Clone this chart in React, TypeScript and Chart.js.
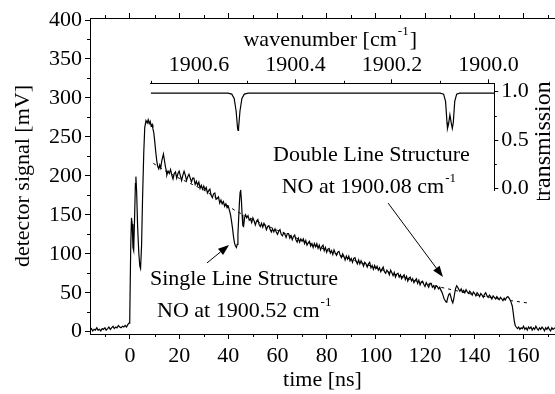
import React, { useEffect, useRef } from "react";
import { Chart, registerables } from "chart.js";
Chart.register(...registerables);

// ---------- data ----------
const timeTicks = [0, 20, 40, 60, 80, 100, 120, 140, 160];
const timeMinorTicks = [-10, 10, 30, 50, 70, 90, 110, 130, 150, 170];
const signalTicks = [0, 50, 100, 150, 200, 250, 300, 350, 400];
const signalMinorTicks = [25, 75, 125, 175, 225, 275, 325, 375];
const wavenumberTicks = [1900.6, 1900.4, 1900.2, 1900.0];
const wavenumberMinorTicks = [1900.7, 1900.5, 1900.3, 1900.1];
const transmissionTicks = [0, 0.5, 1.0];
const transmissionMinorTicks = [0.25, 0.75];

// detector signal [ns, mV]
const signalTrace: [number, number][] = [
  [-16.3, 2], [-15.7, 4], [-15.2, 1], [-14.6, 3], [-14.1, 2], [-13.5, 5], [-13.0, 2], [-12.4, 3], [-11.9, 1], [-11.3, 4],
  [-10.8, 3], [-10.2, 5], [-9.7, 2], [-9.1, 4], [-8.6, 6], [-8.0, 3], [-7.5, 5], [-6.9, 7], [-6.4, 4], [-5.8, 6],
  [-5.3, 5], [-4.7, 8], [-4.2, 6], [-3.6, 5], [-3.1, 7], [-2.5, 6], [-2.0, 8], [-1.4, 6], [-0.9, 9], [-0.4, 11],
  [-0.1, 16], [0.3, 110], [0.6, 146], [0.9, 138], [1.2, 108], [1.5, 104], [1.9, 150], [2.2, 190], [2.4, 199], [2.7, 180],
  [3.1, 135], [3.6, 100], [4.0, 84], [4.3, 81], [4.7, 110], [5.1, 170], [5.6, 230], [6.0, 262], [6.5, 271], [7.0, 268],
  [7.4, 272], [7.8, 267], [8.2, 270], [8.6, 264], [9.0, 266], [9.3, 261], [9.7, 255], [10.1, 243], [10.5, 230], [10.9, 219],
  [11.3, 212], [11.7, 209], [12.1, 214], [12.5, 210], [12.9, 219], [13.3, 224], [13.6, 228], [14.0, 220], [14.4, 212], [14.8, 206],
  [15.0, 201], [15.5, 206], [16.0, 203], [16.5, 208], [17.0, 201], [17.5, 196], [18.0, 203], [18.5, 205], [19.0, 197], [19.5, 203],
  [20.0, 206], [20.5, 200], [21.0, 194], [21.5, 201], [22.0, 206], [22.5, 201], [23.0, 194], [23.5, 199], [24.0, 202], [24.5, 197],
  [25.0, 192], [25.5, 197], [26.0, 197], [26.5, 189], [27.0, 193], [27.5, 188], [28.0, 192], [28.5, 184], [29.0, 188], [29.5, 183],
  [30.0, 187], [30.5, 182], [31.0, 185], [31.5, 178], [32.0, 181], [32.5, 183], [33.0, 175], [33.5, 172], [34.0, 177], [34.5, 178],
  [35.0, 170], [35.5, 171], [36.0, 173], [36.5, 165], [37.0, 169], [37.5, 164], [38.0, 167], [38.5, 161], [39.0, 164], [39.5, 159],
  [40.0, 161], [40.5, 155], [40.9, 150], [41.3, 142], [41.7, 133], [42.1, 122], [42.5, 114], [42.9, 110], [43.3, 108], [43.6, 112],
  [43.9, 125], [44.2, 145], [44.5, 165], [44.8, 179], [45.0, 182], [45.3, 170], [45.6, 150], [45.9, 136], [46.2, 135], [46.6, 146],
  [47.0, 150], [47.5, 146], [48.0, 149], [48.5, 143], [49.0, 145], [49.5, 140], [50.0, 146], [50.5, 142], [51.0, 137], [51.5, 142],
  [52.0, 144], [52.5, 138], [53.0, 135], [53.5, 139], [54.0, 134], [54.5, 139], [55.0, 136], [55.5, 131], [56.0, 135], [56.5, 136],
  [57.0, 131], [57.5, 128], [58.0, 132], [58.5, 128], [59.0, 132], [59.5, 128], [60.0, 125], [60.5, 129], [61.0, 131], [61.5, 125],
  [62.0, 123], [62.5, 127], [63.0, 125], [63.5, 121], [64.0, 126], [64.5, 126], [65.0, 120], [65.5, 123], [66.0, 118], [66.5, 122],
  [67.0, 124], [67.5, 118], [68.0, 115], [68.5, 120], [69.0, 115], [69.5, 119], [70.0, 116], [70.5, 119], [71.0, 113], [71.5, 117],
  [72.0, 111], [72.5, 114], [73.0, 116], [73.5, 110], [74.0, 113], [74.5, 108], [75.0, 113], [75.5, 109], [76.0, 113], [76.5, 107],
  [77.0, 111], [77.5, 105], [78.0, 109], [78.5, 111], [79.0, 104], [79.5, 108], [80.0, 102], [80.5, 106], [81.0, 107], [81.5, 101],
  [82.0, 104], [82.5, 99], [83.0, 105], [83.5, 101], [84.0, 98], [84.5, 102], [85.0, 103], [85.5, 98], [86.0, 95], [86.5, 100],
  [87.0, 97], [87.5, 92], [88.0, 97], [88.5, 93], [89.0, 97], [89.5, 91], [90.0, 94], [90.5, 89], [91.0, 94], [91.5, 95],
  [92.0, 90], [92.5, 87], [93.0, 92], [93.5, 87], [94.0, 91], [94.5, 88], [95.0, 84], [95.5, 89], [96.0, 87], [96.5, 83],
  [97.0, 87], [97.5, 89], [98.0, 82], [98.5, 85], [99.0, 80], [99.5, 85], [100.0, 81], [100.5, 84], [101.0, 79], [101.5, 82],
  [102.0, 77], [102.5, 80], [103.0, 83], [103.5, 77], [104.0, 75], [104.5, 79], [105.0, 77], [105.5, 73], [106.0, 79], [106.5, 76],
  [107.0, 72], [107.5, 76], [108.0, 70], [108.5, 74], [109.0, 75], [109.5, 70], [110.0, 73], [110.5, 68], [111.0, 71], [111.5, 73],
  [112.0, 67], [112.5, 71], [113.0, 65], [113.5, 69], [114.0, 70], [114.5, 65], [115.0, 68], [115.5, 63], [116.0, 66], [116.5, 68],
  [117.0, 62], [117.5, 66], [118.0, 60], [118.5, 64], [119.0, 65], [119.5, 61], [120.0, 58], [120.5, 63], [121.0, 60], [121.5, 57],
  [122.0, 62], [122.5, 62], [123.0, 57], [123.5, 59], [124.0, 55], [124.5, 59], [125.0, 58], [125.5, 55], [126.0, 57], [126.5, 53],
  [127.0, 50], [127.4, 46], [127.8, 42], [128.2, 40], [128.6, 38], [128.9, 39], [129.3, 44], [129.7, 48], [130.1, 49], [130.5, 45],
  [130.9, 40], [131.3, 37], [131.7, 42], [132.1, 50], [132.5, 56], [132.9, 59], [133.3, 57], [133.8, 54], [134.2, 52], [134.7, 55],
  [135.2, 51], [135.7, 53], [136.2, 50], [136.7, 54], [137.2, 51], [137.7, 49], [138.2, 52], [138.7, 50], [139.2, 47], [139.7, 51],
  [140.2, 49], [140.7, 46], [141.2, 50], [141.7, 48], [142.2, 45], [142.7, 49], [143.2, 47], [143.7, 44], [144.2, 48], [144.7, 50],
  [145.2, 46], [145.7, 44], [146.2, 47], [146.7, 45], [147.2, 42], [147.7, 46], [148.2, 44], [148.7, 42], [149.2, 45], [149.7, 43],
  [150.2, 41], [150.7, 44], [151.2, 42], [151.7, 40], [152.2, 43], [152.7, 41], [153.2, 44], [153.7, 45], [154.2, 43], [154.6, 41],
  [155.0, 38], [155.5, 33], [155.9, 24], [156.3, 14], [156.7, 8], [157.1, 6], [157.6, 4], [158.1, 6], [158.6, 3], [159.1, 5],
  [159.6, 4], [160.1, 7], [160.6, 3], [161.1, 5], [161.6, 2], [162.1, 6], [162.6, 4], [163.1, 6], [163.6, 2], [164.1, 5],
  [164.6, 3], [165.1, 7], [165.6, 4], [166.1, 2], [166.6, 5], [167.1, 3], [167.6, 6], [168.1, 4], [168.6, 1], [169.1, 5],
  [169.6, 3], [170.1, 6], [170.6, 3], [171.1, 1], [171.6, 5], [172.1, 3], [172.9, 5],
];

// smooth decay (dashed) [ns, mV]
const fitTrace: [number, number][] = [
  [9.5, 216], [15, 205], [20, 197], [30, 182], [43, 155], [50, 144], [60, 130], [75, 111], [87, 96], [100, 82],
  [114, 67], [125, 58], [140, 47.5], [150, 42], [161.5, 37],
];

// transmission spectrum [cm^-1, transmission]
const spectrum: [number, number][] = [
  [1900.7, 0.985], [1900.54, 0.985], [1900.532, 0.975], [1900.527, 0.93], [1900.523, 0.8], [1900.520, 0.62],
  [1900.519, 0.6], [1900.518, 0.62], [1900.515, 0.8], [1900.511, 0.93], [1900.506, 0.975], [1900.498, 0.985],
  [1900.1, 0.985], [1900.093, 0.975], [1900.089, 0.9], [1900.086, 0.68], [1900.085, 0.62], [1900.083, 0.66],
  [1900.080, 0.76], [1900.077, 0.67], [1900.075, 0.62], [1900.073, 0.68], [1900.070, 0.9], [1900.066, 0.975],
  [1900.06, 0.985], [1899.988, 0.985],
];

// ---------- annotation placement (data units) ----------
const mainNotes = [
  { t: 8.1, mv: 60, text: "Single Line Structure", sup: "" },
  { t: 11, mv: 19.5, text: "NO at 1900.52 cm", sup: "-1" },
  { t: 58.2, mv: 219, text: "Double Line Structure", sup: "" },
  { t: 61.7, mv: 178, text: "NO at 1900.08 cm", sup: "-1" },
];
const mainArrows = [
  { from: [31.3, 88.2], to: [40.3, 111.3] },
  { from: [105, 165], to: [127.3, 70.2] },
];

const FAMILY = '"Liberation Serif", "Times New Roman", Times, serif';
const FS = 22;
const SUPFS = 13;
const tickFont = { family: FAMILY, size: FS };

function line(ctx: CanvasRenderingContext2D, x1: number, y1: number, x2: number, y2: number) {
  ctx.beginPath();
  ctx.moveTo(x1, y1);
  ctx.lineTo(x2, y2);
  ctx.stroke();
}

function textWithSup(ctx: CanvasRenderingContext2D, x: number, y: number, main: string, sup: string, tail = "") {
  ctx.font = `${FS}px ${FAMILY}`;
  ctx.textBaseline = "alphabetic";
  ctx.textAlign = "left";
  ctx.fillText(main, x, y);
  let w = ctx.measureText(main).width;
  if (sup) {
    ctx.font = `${SUPFS}px ${FAMILY}`;
    ctx.fillText(sup, x + w + 1, y - 11);
    w += ctx.measureText(sup).width + 2;
  }
  if (tail) {
    ctx.font = `${FS}px ${FAMILY}`;
    ctx.fillText(tail, x + w, y);
  }
}

function measureWithSup(ctx: CanvasRenderingContext2D, main: string, sup: string, tail = "") {
  ctx.font = `${FS}px ${FAMILY}`;
  let w = ctx.measureText(main).width + ctx.measureText(tail).width;
  ctx.font = `${SUPFS}px ${FAMILY}`;
  if (sup) w += ctx.measureText(sup).width + 2;
  return w;
}

const zeroPad = (s: any) => {
  s.paddingLeft = 0;
  s.paddingRight = 0;
  s.paddingTop = 0;
  s.paddingBottom = 0;
};

const mainDecor = {
  id: "mainDecor",
  afterDraw(chart: any) {
    const ctx = chart.ctx as CanvasRenderingContext2D;
    const xs = chart.scales.x;
    const ys = chart.scales.y;
    const area = chart.chartArea;
    ctx.save();
    ctx.strokeStyle = "#000";
    ctx.fillStyle = "#000";
    ctx.lineWidth = 1;
    for (const v of timeMinorTicks) {
      const px = Math.round(xs.getPixelForValue(v)) + 0.5;
      line(ctx, px, area.bottom, px, area.bottom + 3);
      line(ctx, px, area.top, px, area.top - 3);
    }
    for (const v of signalMinorTicks) {
      const py = Math.round(ys.getPixelForValue(v)) + 0.5;
      line(ctx, area.left, py, area.left - 3, py);
    }
    for (const n of mainNotes) {
      textWithSup(ctx, xs.getPixelForValue(n.t), ys.getPixelForValue(n.mv), n.text, n.sup);
    }
    for (const a of mainArrows) {
      const x1 = xs.getPixelForValue(a.from[0]);
      const y1 = ys.getPixelForValue(a.from[1]);
      const x2 = xs.getPixelForValue(a.to[0]);
      const y2 = ys.getPixelForValue(a.to[1]);
      const ang = Math.atan2(y2 - y1, x2 - x1);
      const L = 11;
      const W = 4;
      const bx = x2 - L * Math.cos(ang);
      const by = y2 - L * Math.sin(ang);
      line(ctx, x1, y1, bx, by);
      ctx.beginPath();
      ctx.moveTo(x2, y2);
      ctx.lineTo(bx + W * Math.sin(ang), by - W * Math.cos(ang));
      ctx.lineTo(bx - W * Math.sin(ang), by + W * Math.cos(ang));
      ctx.closePath();
      ctx.fill();
    }
    ctx.restore();
  },
};

const insetDecor = {
  id: "insetDecor",
  afterDraw(chart: any) {
    const ctx = chart.ctx as CanvasRenderingContext2D;
    const xs = chart.scales.x;
    const ys = chart.scales.y;
    const area = chart.chartArea;
    ctx.save();
    ctx.strokeStyle = "#000";
    ctx.fillStyle = "#000";
    ctx.lineWidth = 1;
    for (const v of wavenumberMinorTicks) {
      const px = Math.round(xs.getPixelForValue(v)) + 0.5;
      line(ctx, px, area.top, px, area.top - 2.5);
    }
    for (const v of transmissionMinorTicks) {
      const py = Math.round(ys.getPixelForValue(v)) + 0.5;
      line(ctx, area.right, py, area.right + 2.5, py);
    }
    // top axis title
    const tw = measureWithSup(ctx, "wavenumber [cm", "-1", "]");
    const cx = xs.getPixelForValue(1900.328);
    const by = ys.getPixelForValue(1.478);
    textWithSup(ctx, cx - tw / 2, by, "wavenumber [cm", "-1", "]");
    // right axis title
    ctx.font = `24px ${FAMILY}`;
    ctx.textAlign = "center";
    ctx.textBaseline = "middle";
    ctx.translate(area.right + 49, ys.getPixelForValue(0.48));
    ctx.rotate(-Math.PI / 2);
    ctx.fillText("transmission", 0, 0);
    ctx.restore();
  },
};

export default function App() {
  const mainRef = useRef<HTMLCanvasElement>(null);
  const insetRef = useRef<HTMLCanvasElement>(null);

  useEffect(() => {
    const main = new Chart(mainRef.current as HTMLCanvasElement, {
      type: "line",
      data: {
        datasets: [
          {
            data: signalTrace.map(([x, y]) => ({ x, y })),
            borderColor: "#000",
            borderWidth: 1.2,
            pointRadius: 0,
            tension: 0,
          },
          {
            data: fitTrace.map(([x, y]) => ({ x, y })),
            borderColor: "#000",
            borderWidth: 1,
            borderDash: [3, 4],
            pointRadius: 0,
            tension: 0,
          },
        ],
      },
      options: {
        responsive: false,
        animation: false,
        events: [],
        layout: { padding: 0 },
        plugins: { legend: { display: false }, tooltip: { enabled: false } },
        scales: {
          x: {
            type: "linear",
            position: "bottom",
            min: -16.27,
            max: 172.88,
            afterBuildTicks: (s: any) => {
              s.ticks = timeTicks.map((v) => ({ value: v }));
            },
            afterFit: (s: any) => {
              s.height = 60;
              zeroPad(s);
            },
            ticks: { color: "#000", font: tickFont, padding: 4, maxRotation: 0, autoSkip: false },
            grid: { drawOnChartArea: false, drawTicks: true, tickLength: 5, color: "#000" },
            border: { display: true, color: "#000", width: 1 },
            title: { display: true, text: "time [ns]", color: "#000", font: tickFont, padding: { top: 0, bottom: 1 } },
          },
          xTop: {
            type: "linear",
            position: "top",
            min: -16.27,
            max: 172.88,
            afterBuildTicks: (s: any) => {
              s.ticks = timeTicks.map((v) => ({ value: v }));
            },
            afterFit: (s: any) => {
              s.height = 18;
              zeroPad(s);
            },
            ticks: { display: false },
            grid: { drawOnChartArea: false, drawTicks: true, tickLength: 5, color: "#000" },
            border: { display: true, color: "#000", width: 1 },
          },
          y: {
            type: "linear",
            position: "left",
            min: -2.95,
            max: 402.57,
            afterBuildTicks: (s: any) => {
              s.ticks = signalTicks.map((v) => ({ value: v }));
            },
            afterFit: (s: any) => {
              s.width = 90;
              zeroPad(s);
            },
            ticks: { color: "#000", font: tickFont, padding: 3, autoSkip: false },
            grid: { drawOnChartArea: false, drawTicks: true, tickLength: 5, color: "#000" },
            border: { display: true, color: "#000", width: 1 },
            title: { display: true, text: "detector signal [mV]", color: "#000", font: tickFont, padding: { top: 10, bottom: 0 } },
          },
        },
      },
      plugins: [mainDecor],
    } as any);

    const inset = new Chart(insetRef.current as HTMLCanvasElement, {
      type: "line",
      data: {
        datasets: [
          {
            data: spectrum.map(([x, y]) => ({ x, y })),
            borderColor: "#000",
            borderWidth: 1.2,
            pointRadius: 0,
            tension: 0,
          },
        ],
      },
      options: {
        responsive: false,
        animation: false,
        events: [],
        layout: { padding: { left: 10.7, right: 0, top: 0, bottom: 10 } },
        plugins: { legend: { display: false }, tooltip: { enabled: false } },
        scales: {
          x: {
            type: "linear",
            position: "top",
            reverse: true,
            min: 1899.988,
            max: 1900.7,
            afterBuildTicks: (s: any) => {
              s.ticks = wavenumberTicks.map((v) => ({ value: v }));
            },
            afterFit: (s: any) => {
              s.height = 63.3;
              zeroPad(s);
            },
            ticks: {
              color: "#000",
              font: tickFont,
              padding: 1,
              maxRotation: 0,
              autoSkip: false,
              callback: (v: any) => Number(v).toFixed(1),
            },
            grid: { drawOnChartArea: false, drawTicks: true, tickLength: 4, color: "#000" },
            border: { display: true, color: "#000", width: 1 },
          },
          y: {
            type: "linear",
            position: "right",
            min: -0.0176,
            max: 1.087,
            afterBuildTicks: (s: any) => {
              s.ticks = transmissionTicks.map((v) => ({ value: v }));
            },
            afterFit: (s: any) => {
              s.width = 60.7;
              zeroPad(s);
            },
            ticks: {
              color: "#000",
              font: tickFont,
              padding: 3,
              autoSkip: false,
              callback: (v: any) => Number(v).toFixed(1),
            },
            grid: { drawOnChartArea: false, drawTicks: true, tickLength: 4, color: "#000" },
            border: { display: true, color: "#000", width: 1 },
          },
        },
      },
      plugins: [insetDecor],
    } as any);

    return () => {
      main.destroy();
      inset.destroy();
    };
  }, []);

  return (
    <div style={{ position: "absolute", left: 0, top: 0, width: 555, height: 394, background: "#fff" }}>
      <canvas
        ref={mainRef}
        width={555}
        height={394}
        style={{ position: "absolute", left: 0, top: 0, width: 555, height: 394 }}
      />
      <canvas
        ref={insetRef}
        width={415}
        height={180}
        style={{ position: "absolute", left: 140, top: 20, width: 415, height: 180 }}
      />
    </div>
  );
}
